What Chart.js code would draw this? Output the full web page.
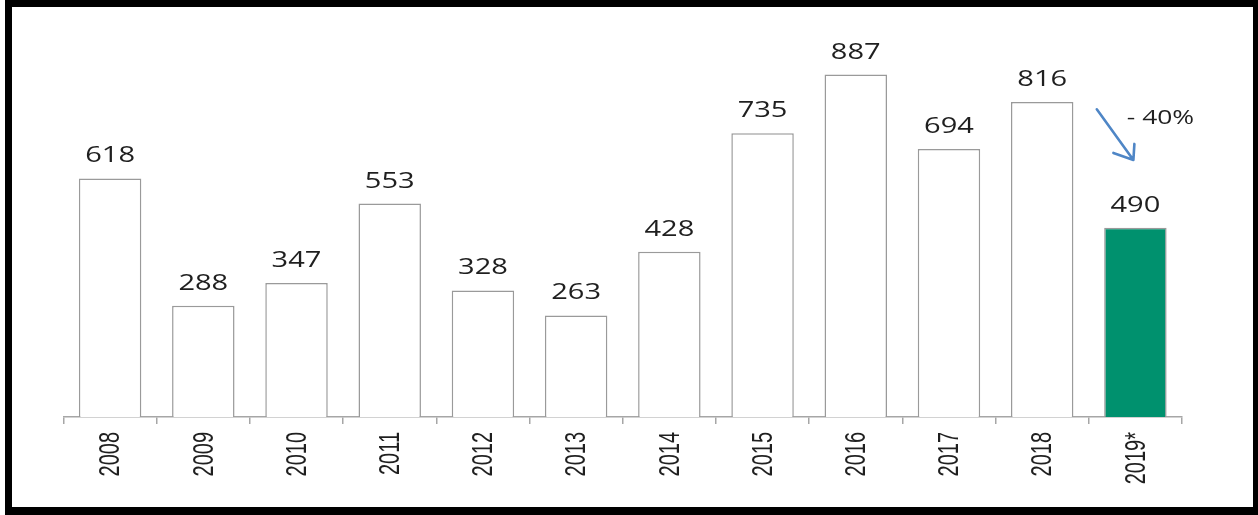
<!DOCTYPE html>
<html>
<head>
<meta charset="utf-8">
<script src="https://cdn.jsdelivr.net/npm/chart.js@4"></script>
<style>
  html, body { margin: 0; padding: 0; background: #fff; }
  .frame { position: absolute; left: 5px; top: 0; width: 1253px; height: 515px; background: #000; }
  .inner { position: absolute; left: 7px; top: 7px; width: 1241px; height: 500px; background: #fff; }
</style>
</head>
<body>
<div class="frame">
  <div class="inner"><canvas id="chart" width="1241" height="500"></canvas></div>
</div>
<script>
const years = ['2008', '2009', '2010', '2011', '2012', '2013', '2014', '2015', '2016', '2017', '2018', '2019*'];
const counts = [618, 288, 347, 553, 328, 263, 428, 735, 887, 694, 816, 490];
const changeLabel = '- 40%';

const AXIS_GRAY = '#a6a6a6';
const TEXT = '#1f1f1f';

// draw text squashed/stretched sideways like the old export
function stretchedText(ctx, text, x, y, sx, align) {
  ctx.save();
  ctx.translate(x, y);
  ctx.scale(sx, 1);
  ctx.textAlign = align;
  ctx.fillText(text, 0, 0);
  ctx.restore();
}

const labelsPlugin = {
  id: 'labels',
  afterDatasetsDraw(chart) {
    const ctx = chart.ctx;
    const xs = chart.scales.x;
    const ys = chart.scales.y;
    const meta = chart.getDatasetMeta(0);
    ctx.save();
    ctx.fillStyle = TEXT;
    ctx.textBaseline = 'alphabetic';
    ctx.font = '22px "Open Sans"';
    meta.data.forEach((bar, i) => {
      stretchedText(ctx, String(counts[i]), bar.x, bar.y - 16, 1.32, 'center');
    });

    // rotated year labels under the axis
    ctx.font = '20px "Liberation Sans"';
    years.forEach((yr, i) => {
      ctx.save();
      ctx.translate(xs.getPixelForValue(i) + 1, xs.bottom + 8);
      ctx.rotate(-Math.PI / 2);
      ctx.scale(1, 1.5);
      ctx.textAlign = 'right';
      ctx.textBaseline = 'middle';
      ctx.fillText(yr, 0, 0);
      ctx.restore();
    });

    // arrow for the drop in the last year
    const last = counts.length - 1;
    const cx = xs.getPixelForValue(last);
    const x0 = cx - 38.6, y0 = ys.getPixelForValue(797);
    const x1 = cx - 2, y1 = ys.getPixelForValue(666);
    ctx.strokeStyle = '#4f86c6';
    ctx.lineWidth = 2.6;
    ctx.lineCap = 'round';
    ctx.lineJoin = 'round';
    ctx.beginPath();
    ctx.moveTo(x0, y0);
    ctx.lineTo(x1, y1);
    ctx.moveTo(x1 - 20, y1 - 7);
    ctx.lineTo(x1, y1);
    ctx.lineTo(x1 + 1, y1 - 16);
    ctx.stroke();

    ctx.fillStyle = TEXT;
    ctx.font = '20px "Open Sans"';
    stretchedText(ctx, changeLabel, cx - 8.6, ys.getPixelForValue(759), 1.32, 'left');
    ctx.restore();
  }
};

new Chart(document.getElementById('chart'), {
  type: 'bar',
  data: {
    labels: years,
    datasets: [{
      data: counts,
      backgroundColor: counts.map((v, i) => i === counts.length - 1 ? '#00916e' : '#ffffff'),
      borderColor: '#9a9a9a',
      borderWidth: 1.5,
      categoryPercentage: 1,
      barPercentage: 0.67,
    }],
  },
  options: {
    responsive: false,
    animation: false,
    layout: { padding: { left: 51.5, right: 71, top: 24, bottom: 83 } },
    plugins: { legend: { display: false }, tooltip: { enabled: false } },
    scales: {
      x: {
        offset: true,
        grid: { display: true, offset: true, drawOnChartArea: false, tickLength: 7, color: AXIS_GRAY, lineWidth: 1.5 },
        border: { color: AXIS_GRAY, width: 1.5 },
        ticks: { display: false },
      },
      y: { display: false, min: 0, max: 1000 },
    },
  },
  plugins: [labelsPlugin],
});
</script>
</body>
</html>
